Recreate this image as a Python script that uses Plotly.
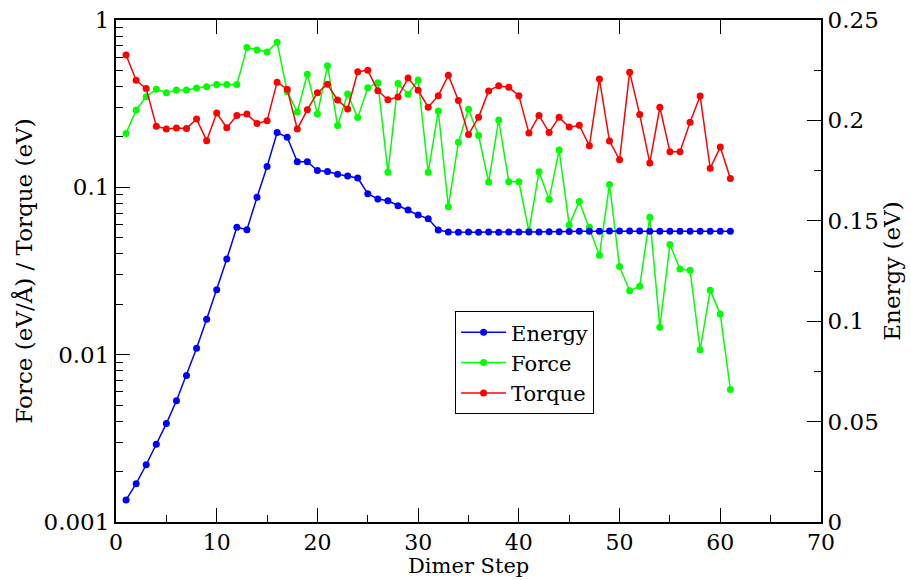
import plotly.graph_objects as go

steps = list(range(1, 62))

energy = [0.0110, 0.0191, 0.0285, 0.0387, 0.0490, 0.0604, 0.0730, 0.0865, 0.1010, 0.1157,
          0.1310, 0.1468, 0.1456, 0.1617, 0.1770, 0.1940, 0.1916, 0.1794, 0.1794, 0.1750,
          0.1745, 0.1732, 0.1723, 0.1713, 0.1635, 0.1609, 0.1600, 0.1575, 0.1554, 0.1529,
          0.1510, 0.1454, 0.1444, 0.1443, 0.1444, 0.1443, 0.1444, 0.1443, 0.1444, 0.1444,
          0.1444, 0.1444, 0.1445, 0.1446, 0.1447, 0.1448, 0.1448, 0.1448, 0.1449, 0.1449,
          0.1449, 0.1449, 0.1448, 0.1448, 0.1448, 0.1448, 0.1448, 0.1448, 0.1448, 0.1448,
          0.1448]

force = [0.210, 0.290, 0.348, 0.385, 0.368, 0.382, 0.382, 0.392, 0.399, 0.411,
         0.411, 0.411, 0.684, 0.662, 0.644, 0.736, 0.373, 0.282, 0.474, 0.274,
         0.533, 0.234, 0.361, 0.261, 0.394, 0.422, 0.123, 0.418, 0.360, 0.438,
         0.123, 0.286, 0.0766, 0.186, 0.293, 0.204, 0.1076, 0.253, 0.108, 0.108,
         0.0548, 0.124, 0.0845, 0.167, 0.0596, 0.0824, 0.0577, 0.0393, 0.104, 0.0336,
         0.0241, 0.0256, 0.0662, 0.0146, 0.0456, 0.0325, 0.0319, 0.0107, 0.0243, 0.0175,
         0.0062]

torque = [0.618, 0.436, 0.389, 0.232, 0.223, 0.226, 0.225, 0.256, 0.190, 0.278,
          0.227, 0.269, 0.274, 0.241, 0.250, 0.425, 0.386, 0.223, 0.291, 0.368,
          0.413, 0.333, 0.294, 0.491, 0.500, 0.378, 0.334, 0.347, 0.450, 0.380,
          0.301, 0.353, 0.467, 0.330, 0.207, 0.262, 0.377, 0.405, 0.396, 0.353,
          0.211, 0.269, 0.213, 0.262, 0.229, 0.235, 0.177, 0.444, 0.189, 0.146,
          0.488, 0.272, 0.140, 0.301, 0.163, 0.163, 0.245, 0.351, 0.130, 0.174,
          0.113]

left_tickvals = [0.001, 0.01, 0.1, 1]
left_ticktext = ["0.001", "0.01", "0.1", "1"]
right_tickvals = [0, 0.05, 0.1, 0.15, 0.2, 0.25]
right_ticktext = ["0", "0.05", "0.1", "0.15", "0.2", "0.25"]
x_tickvals = [0, 10, 20, 30, 40, 50, 60, 70]

FONT = "DejaVu Serif"
TICK = 23
TITLE = 23

fig = go.Figure()

fig.add_trace(go.Scatter(x=steps, y=energy, name="Energy", mode="lines+markers",
                         line=dict(color="#0000ff", width=1.5),
                         marker=dict(color="#0000ff", size=7), yaxis="y2"))
fig.add_trace(go.Scatter(x=steps, y=force, name="Force", mode="lines+markers",
                         line=dict(color="#00ff00", width=1.5),
                         marker=dict(color="#00ff00", size=7)))
fig.add_trace(go.Scatter(x=steps, y=torque, name="Torque", mode="lines+markers",
                         line=dict(color="#ff0000", width=1.5),
                         marker=dict(color="#ff0000", size=7)))
# invisible trace to activate the top axis
fig.add_trace(go.Scatter(x=[0], y=[1], xaxis="x2", mode="markers",
                         marker=dict(opacity=0), showlegend=False, hoverinfo="skip"))

fig.update_layout(
    width=911, height=580,
    margin=dict(l=116, r=90, t=20, b=58),
    paper_bgcolor="white", plot_bgcolor="white",
    font=dict(family=FONT, color="black", size=TICK),
    showlegend=True,
    legend=dict(x=0.481, y=0.42, xanchor="left", yanchor="top",
                bordercolor="black", borderwidth=1, bgcolor="white",
                font=dict(family=FONT, size=21), tracegroupgap=0,
                itemwidth=45),
    xaxis=dict(range=[0, 70], tickvals=x_tickvals, ticks="inside", ticklen=14,
               tickwidth=1, tickcolor="black", showline=True, linecolor="black",
               linewidth=2, showgrid=False, zeroline=False, automargin=False,
               minor=dict(dtick=5, ticks="inside", ticklen=7, tickcolor="black", tickwidth=1),
               tickfont=dict(family=FONT, size=22)),
    xaxis2=dict(range=[0, 70], overlaying="x", side="top", anchor="y",
                tickvals=x_tickvals, ticks="inside", ticklen=14, tickcolor="black",
                showticklabels=False, showline=True, linecolor="black", linewidth=2,
                showgrid=False, zeroline=False, automargin=False),
    yaxis=dict(type="log", range=[-3, 0], tickvals=left_tickvals, ticktext=left_ticktext,
               ticks="inside", ticklen=14, tickcolor="black", tickwidth=1,
               showline=True, linecolor="black", linewidth=2, showgrid=False, zeroline=False,
               automargin=False,
               minor=dict(dtick="D1", ticks="inside", ticklen=7, tickcolor="black", tickwidth=1),
               title=dict(text="Force (eV/Å) / Torque (eV)", font=dict(family=FONT, size=TITLE), standoff=4),
               tickfont=dict(family=FONT, size=TICK)),
    yaxis2=dict(range=[0, 0.25], overlaying="y", side="right", anchor="x",
                tickvals=right_tickvals, ticktext=right_ticktext,
                ticks="inside", ticklen=14, tickcolor="black", tickwidth=1,
                showline=True, linecolor="black", linewidth=2, showgrid=False, zeroline=False,
                automargin=False,
                minor=dict(dtick=0.025, ticks="inside", ticklen=7, tickcolor="black", tickwidth=1),
                title=dict(text="Energy (eV)", font=dict(family=FONT, size=TITLE), standoff=4),
                tickfont=dict(family=FONT, size=TICK)),
    annotations=[dict(text="Dimer Step", xref="paper", yref="paper", x=0.5, y=-0.1155,
                      xanchor="center", yanchor="bottom", showarrow=False,
                      font=dict(family=FONT, size=21))],
)

fig.write_html("out.html")
